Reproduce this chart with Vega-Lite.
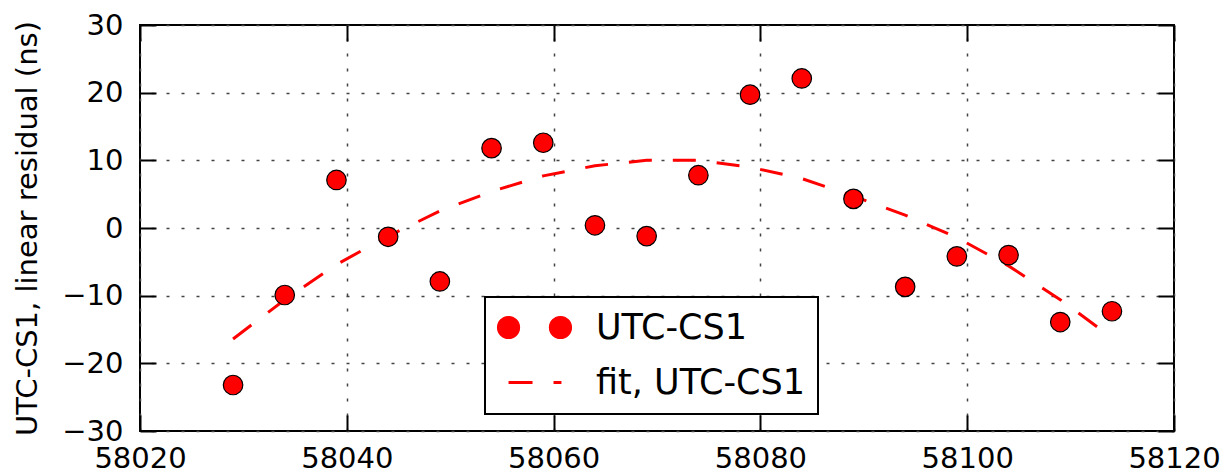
{
  "$schema": "https://vega.github.io/schema/vega-lite/v6.json",
  "width": 1034,
  "height": 406,
  "autosize": {"type": "none"},
  "padding": {"left": 140, "top": 25, "right": 47, "bottom": 39},
  "background": "white",
  "config": {
    "view": {"stroke": "black", "strokeWidth": 2},
    "font": "DejaVu Sans"
  },
  "datasets": {
    "obs": [
      {"mjd": 58029, "res": -23.2, "series": "UTC-CS1"},
      {"mjd": 58034, "res": -9.9, "series": "UTC-CS1"},
      {"mjd": 58039, "res": 7.1, "series": "UTC-CS1"},
      {"mjd": 58044, "res": -1.3, "series": "UTC-CS1"},
      {"mjd": 58049, "res": -7.9, "series": "UTC-CS1"},
      {"mjd": 58054, "res": 11.8, "series": "UTC-CS1"},
      {"mjd": 58059, "res": 12.6, "series": "UTC-CS1"},
      {"mjd": 58064, "res": 0.4, "series": "UTC-CS1"},
      {"mjd": 58069, "res": -1.2, "series": "UTC-CS1"},
      {"mjd": 58074, "res": 7.8, "series": "UTC-CS1"},
      {"mjd": 58079, "res": 19.7, "series": "UTC-CS1"},
      {"mjd": 58084, "res": 22.1, "series": "UTC-CS1"},
      {"mjd": 58089, "res": 4.3, "series": "UTC-CS1"},
      {"mjd": 58094, "res": -8.7, "series": "UTC-CS1"},
      {"mjd": 58099, "res": -4.2, "series": "UTC-CS1"},
      {"mjd": 58104, "res": -4.0, "series": "UTC-CS1"},
      {"mjd": 58109, "res": -13.9, "series": "UTC-CS1"},
      {"mjd": 58114, "res": -12.3, "series": "UTC-CS1"}
    ],
    "fit": [
      {"mjd": 58029, "res": -16.4, "series": "fit, UTC-CS1"},
      {"mjd": 58034, "res": -10.6, "series": "fit, UTC-CS1"},
      {"mjd": 58039, "res": -5.4, "series": "fit, UTC-CS1"},
      {"mjd": 58044, "res": -1.2, "series": "fit, UTC-CS1"},
      {"mjd": 58049, "res": 2.5, "series": "fit, UTC-CS1"},
      {"mjd": 58054, "res": 5.4, "series": "fit, UTC-CS1"},
      {"mjd": 58059, "res": 7.7, "series": "fit, UTC-CS1"},
      {"mjd": 58064, "res": 9.2, "series": "fit, UTC-CS1"},
      {"mjd": 58069, "res": 10.0, "series": "fit, UTC-CS1"},
      {"mjd": 58074, "res": 10.0, "series": "fit, UTC-CS1"},
      {"mjd": 58079, "res": 9.0, "series": "fit, UTC-CS1"},
      {"mjd": 58084, "res": 7.3, "series": "fit, UTC-CS1"},
      {"mjd": 58089, "res": 4.7, "series": "fit, UTC-CS1"},
      {"mjd": 58094, "res": 1.9, "series": "fit, UTC-CS1"},
      {"mjd": 58099, "res": -1.4, "series": "fit, UTC-CS1"},
      {"mjd": 58104, "res": -5.6, "series": "fit, UTC-CS1"},
      {"mjd": 58109, "res": -10.6, "series": "fit, UTC-CS1"},
      {"mjd": 58114, "res": -16.2, "series": "fit, UTC-CS1"}
    ]
  },
  "layer": [
    {
      "data": {"name": "fit"},
      "mark": {"type": "line", "strokeWidth": 3, "strokeDash": [23, 21], "strokeCap": "butt"},
      "encoding": {
        "x": {
          "field": "mjd", "type": "quantitative",
          "scale": {"domain": [58020, 58120], "nice": false, "zero": false},
          "axis": {
            "orient": "bottom", "title": null,
            "values": [58020, 58040, 58060, 58080, 58100, 58120],
            "format": "d",
            "offset": -16,
            "labelFontSize": 29, "labelColor": "black", "labelFont": "DejaVu Sans",
            "labelFlush": false, "labelOverlap": false,
            "ticks": true,
            "tickSize": 16, "tickColor": "black", "tickWidth": 2, "tickOpacity": 1,
            "labelPadding": 13,
            "domain": false,
            "grid": false
          }
        },
        "y": {
          "field": "res", "type": "quantitative",
          "scale": {"domain": [-30, 30], "nice": false, "zero": false},
          "axis": {
            "orient": "left",
            "offset": -16,
            "title": "UTC-CS1, linear residual (ns)",
            "titleFontSize": 29, "titleFontWeight": "normal", "titleColor": "black", "titleFont": "DejaVu Sans",
            "titlePadding": 19,
            "values": [-30, -20, -10, 0, 10, 20, 30],
            "labelFontSize": 29, "labelColor": "black", "labelFont": "DejaVu Sans",
            "labelFlush": false, "labelOverlap": false,
            "ticks": true,
            "tickSize": 16, "tickColor": "black", "tickWidth": 2, "tickOpacity": 1,
            "labelPadding": 17,
            "domain": false,
            "grid": false
          }
        },
        "color": {
          "field": "series", "type": "nominal",
          "scale": {"domain": ["UTC-CS1", "fit, UTC-CS1"], "range": ["#ff0000", "#ff0000"]},
          "legend": {
            "orient": "none", "legendX": 345, "legendY": 272,
            "title": null,
            "padding": 13,
            "fillColor": "white", "strokeColor": "black",
            "labelFontSize": 35, "labelFont": "DejaVu Sans", "labelColor": "black",
            "labelLimit": 500,
            "symbolSize": 484,
            "symbolOffset": 19,
            "labelOffset": 44,
            "rowPadding": 19,
            "encode": {
              "legend": {"update": {"strokeWidth": {"value": 2}}},
              "symbols": {
                "update": {
                  "shape": {"signal": "datum.value === 'UTC-CS1' ? 'M-1.36,0C-1.36,0.5523 -1.8077,1 -2.36,1C-2.9123,1 -3.36,0.5523 -3.36,0C-3.36,-0.5523 -2.9123,-1 -2.36,-1C-1.8077,-1 -1.36,-0.5523 -1.36,0Z M3.36,0C3.36,0.5523 2.9123,1 2.36,1C1.8077,1 1.36,0.5523 1.36,0C1.36,-0.5523 1.8077,-1 2.36,-1C2.9123,-1 3.36,-0.5523 3.36,0Z' : 'M-2.36,0L-0.18,0M1.73,0L2.45,0'"},
                  "fill": {"signal": "datum.value === 'UTC-CS1' ? '#ff0000' : 'transparent'"},
                  "stroke": {"signal": "datum.value === 'UTC-CS1' ? '#000000' : '#ff0000'"},
                  "strokeWidth": {"signal": "datum.value === 'UTC-CS1' ? 1.2 : 3"},
                  "opacity": {"value": 1},
                  "size": {"value": 484}
                }
              }
            }
          }
        }
      }
    },
    {
      "data": {"name": "obs"},
      "mark": {"type": "circle", "size": 380, "opacity": 1, "stroke": "black", "strokeWidth": 1.2},
      "encoding": {
        "x": {
          "field": "mjd", "type": "quantitative",
          "axis": {
            "orient": "top", "title": null, "labels": false,
            "offset": -16,
            "values": [58020, 58040, 58060, 58080, 58100, 58120],
            "ticks": true,
            "tickSize": 16, "tickColor": "black", "tickWidth": 2, "tickOpacity": 1,
            "domain": false,
            "grid": true, "gridDash": [3, 12], "gridColor": "#444444", "gridWidth": 1.5
          }
        },
        "y": {
          "field": "res", "type": "quantitative",
          "axis": {
            "orient": "right", "title": null, "labels": false,
            "offset": -16,
            "values": [-30, -20, -10, 0, 10, 20, 30],
            "ticks": true,
            "tickSize": 16, "tickColor": "black", "tickWidth": 2, "tickOpacity": 1,
            "domain": false,
            "grid": true, "gridDash": [3, 12], "gridColor": "#444444", "gridWidth": 1.5
          }
        },
        "color": {"field": "series", "type": "nominal"}
      }
    }
  ]
}
